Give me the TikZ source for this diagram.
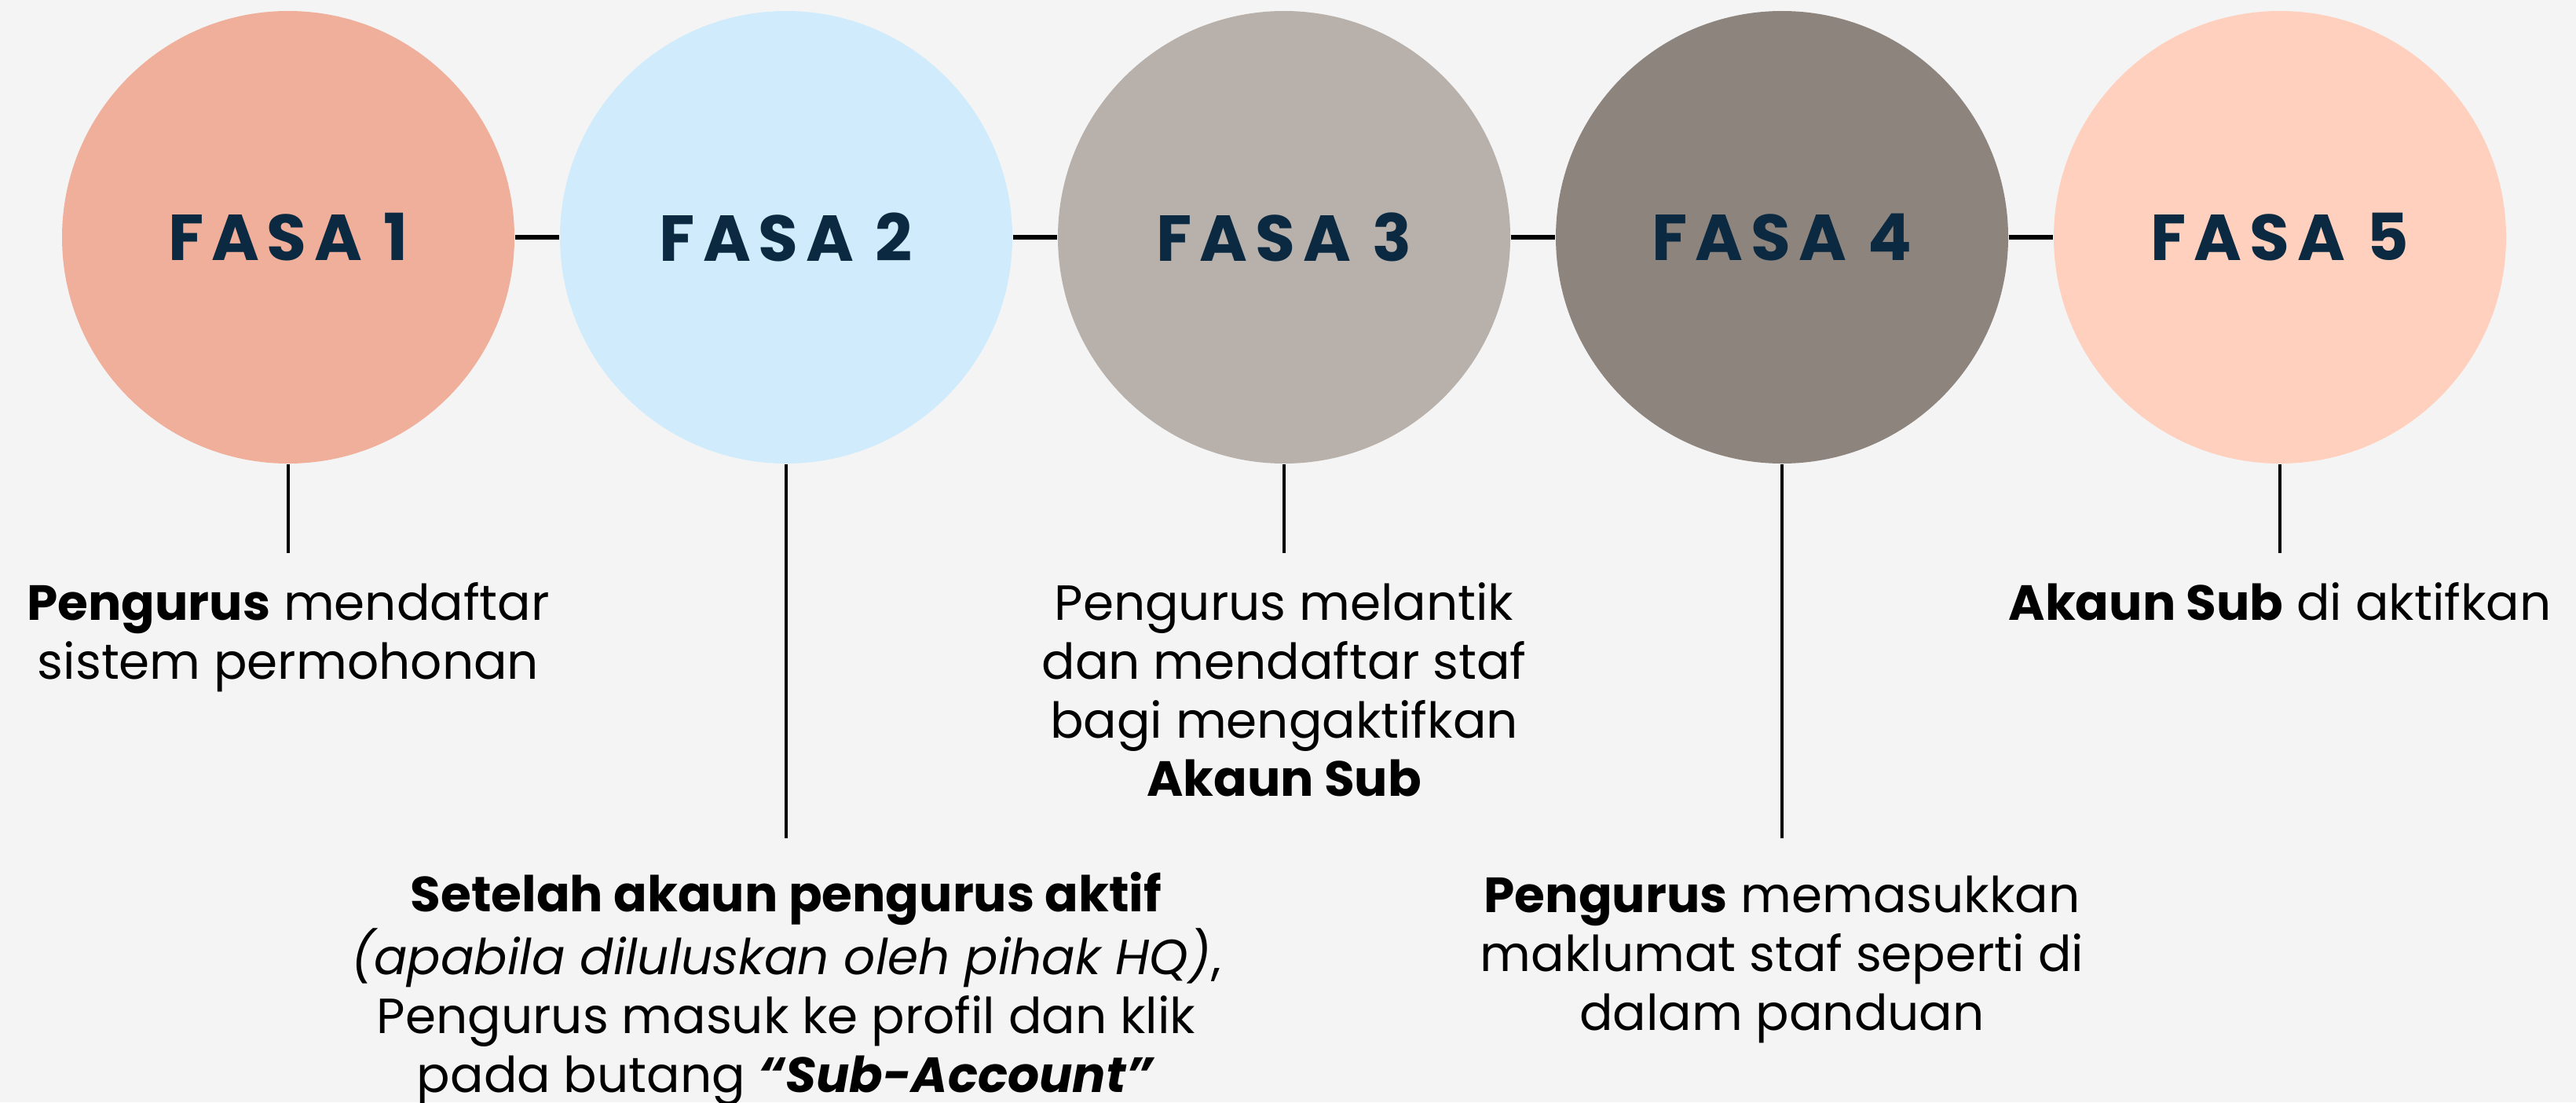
\documentclass[tikz,border=0pt]{standalone}
\usepackage{fontspec}
\setmainfont{Poppins}
\newfontfamily\fasafont[LetterSpace=12]{Poppins}
\usetikzlibrary{positioning}
\definecolor{paper}{RGB}{244,244,244}
\definecolor{salmon}{RGB}{239,175,155}
\definecolor{sky}{RGB}{208,236,252}
\definecolor{stone}{RGB}{184,176,170}
\definecolor{taupe}{RGB}{141,132,126}
\definecolor{peach}{RGB}{255,208,190}
\definecolor{navy}{RGB}{11,41,64}
\tikzset{
  phase/.style={circle,fill=#1,minimum size=57.6mm,inner sep=0pt,text=navy,
    font=\fasafont\fontsize{23.5}{28}\selectfont\bfseries},
  phase/.default=salmon,
  link/.style={draw=black,line width=1.7pt},
  stem/.style={draw=black,line width=1.1pt},
  note/.style={align=center,inner sep=0pt,text=black,
    font=\fontsize{17.9}{21.3}\selectfont},
}

\begin{document}
\begin{tikzpicture}
    \fill[paper] (0,0) rectangle (32.8,-14.03);
    \useasboundingbox (0,0) rectangle (32.8,-14.03);
    % phases and their stems
    \foreach \c/\l [count=\i] in {salmon/11.3mm,sky/47.6mm,stone/11.3mm,taupe/47.6mm,peach/11.3mm}{
      \node[phase=\c] (f\i) at (\i*6.34-2.67,-3.02) {FASA \i};
      \coordinate[below=\l of f\i.south] (e\i);
      \draw[stem] (f\i) -- (e\i);
    }
    \foreach \i [evaluate=\i as \j using int(\i+1)] in {1,2,3,4} \draw[link] (f\i) -- (f\j);
    % notes
    \node[note,below=3.7mm of e1] (t1) {\textbf{Pengurus} mendaftar\\sistem permohonan};
    \node[note,below=4.3mm of e2] (t2) {\textbf{Setelah akaun pengurus aktif}\\
      \textit{(apabila diluluskan oleh pihak HQ)},\\
      Pengurus masuk ke profil dan klik\\
      pada butang \textbf{\textit{“Sub-Account”}}};
    \node[note,below=3.7mm of e3] (t3) {Pengurus melantik\\dan mendaftar staf\\bagi mengaktifkan\\\textbf{Akaun Sub}};
    \node[note,below=4.8mm of e4] (t4) {\textbf{Pengurus} memasukkan\\maklumat staf seperti di\\dalam panduan};
    \node[note,below=3.7mm of e5] (t5) {\textbf{Akaun Sub} di aktifkan};
\end{tikzpicture}
\end{document}
